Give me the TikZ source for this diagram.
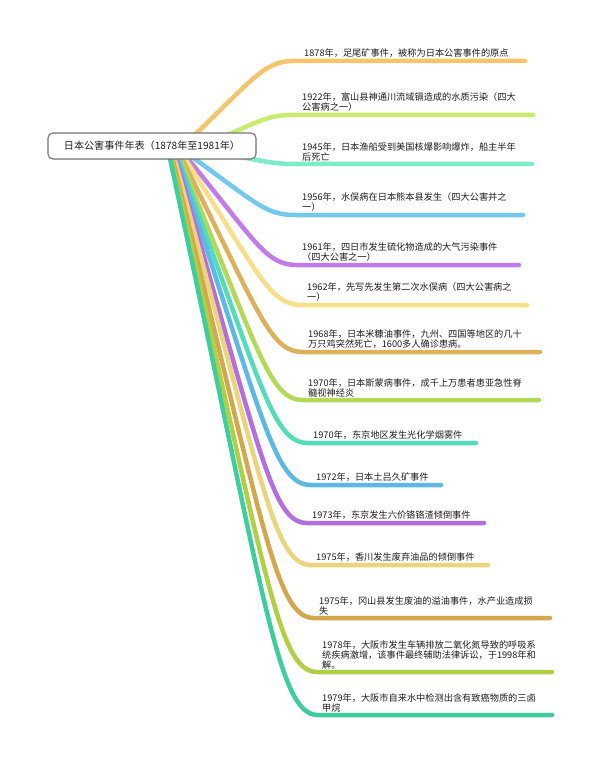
\documentclass[tikz,border=0pt]{standalone}
\usepackage{fontspec}
\setmainfont{Noto Sans CJK SC}
\usetikzlibrary{backgrounds}
\definecolor{c1}{HTML}{F5C56E}
\definecolor{c2}{HTML}{C9EC6E}
\definecolor{c3}{HTML}{7EEBC9}
\definecolor{c4}{HTML}{72C8EE}
\definecolor{c5}{HTML}{C27BEA}
\definecolor{c6}{HTML}{F7DF8A}
\definecolor{c7}{HTML}{DDB05C}
\definecolor{c8}{HTML}{B4D956}
\definecolor{c9}{HTML}{52DDB8}
\definecolor{c10}{HTML}{5DB9E3}
\definecolor{c11}{HTML}{B56EE0}
\definecolor{c12}{HTML}{EAD47C}
\definecolor{c13}{HTML}{D3A74E}
\definecolor{c14}{HTML}{AFCF45}
\definecolor{c15}{HTML}{3FCDA0}
\definecolor{txt}{HTML}{1E1E1E}
% #1 name, #2 start x, #3 curve end x, #4 line y, #5 line end x, #6 text x, #7 colour, #8 text
\newcommand\mybranch[8]{%
  \coordinate (s#1) at (#3,#4);
  \coordinate (f#1) at (#5,#4);
  \node[evtext] (t#1) at (#6,{#4-3}) {#8};
  \begin{scope}[on background layer]
    \draw[branchline,#7] ([shift={(#2-152,3)}]root.center)
      .. controls ({#2+0.65*(#3-#2)},{149+0.8*(#4-149)}) and ({#3-0.27*(#3-#2)},#4) .. (s#1) -- (f#1);
  \end{scope}
}
\begin{document}
\begin{tikzpicture}[x=1pt,y=-1pt,
  branchline/.style={line width=4.5pt,line cap=round},
  evtext/.style={anchor=south west,inner sep=0pt,align=left,
    font=\fontsize{9.2}{10}\selectfont,text=txt},
  rootbox/.style={draw=black!55,line width=1.1pt,rounded corners=5pt,fill=white,
    minimum width=208pt,minimum height=26pt,inner sep=0pt,
    font=\fontsize{10.1}{12}\selectfont,text=txt}]
\useasboundingbox (0,0) rectangle (600,762);
\begin{scope}[on background layer]
  \fill[white] (0,0) rectangle (600,762);
\end{scope}
\node[rootbox] (root) at (152,146) {日本公害事件年表（1878年至1981年）};
\mybranch{1}{180}{294}{61}{525}{304}{c1}{1878年，足尾矿事件，被称为日本公害事件的原点}
\mybranch{2}{196}{292}{115}{533}{302}{c2}{1922年，富山县神通川流域镉造成的水质污染（四大\\公害病之一）}
\mybranch{3}{200}{297}{164}{532}{302}{c3}{1945年，日本渔船受到美国核爆影响爆炸，船主半年\\后死亡}
\mybranch{4}{181}{295}{215}{523}{302}{c4}{1956年，水俣病在日本熊本县发生（四大公害并之\\一）}
\mybranch{5}{180}{297}{265}{519}{302}{c5}{1961年，四日市发生硫化物造成的大气污染事件\\（四大公害之一）}
\mybranch{6}{179}{302}{305}{527}{307}{c6}{1962年，先写先发生第二次水俣病（四大公害病之\\一）}
\mybranch{7}{177}{303}{352}{540}{308}{c7}{1968年，日本米糠油事件，九州、四国等地区的几十\\万只鸡突然死亡，1600多人确诊患病。}
\mybranch{8}{176}{303}{400}{539}{308}{c8}{1970年，日本斯蒙病事件，成千上万患者患亚急性脊\\髓视神经炎}
\mybranch{9}{175}{308}{443}{476}{313}{c9}{1970年，东京地区发生光化学烟雾件}
\mybranch{10}{174}{311}{485}{441}{316}{c10}{1972年，日本土吕久矿事件}
\mybranch{11}{173}{307}{523}{484}{312}{c11}{1973年，东京发生六价铬铬渣倾倒事件}
\mybranch{12}{172}{311}{565}{488}{316}{c12}{1975年，香川发生废弃油品的倾倒事件}
\mybranch{13}{170}{314}{618}{550}{319}{c13}{1975年，冈山县发生废油的溢油事件，水产业造成损\\失}
\mybranch{14}{169}{317}{672}{552}{322}{c14}{1978年，大阪市发生车辆排放二氧化氮导致的呼吸系\\统疾病激增，该事件最终辅助法律诉讼，于1998年和\\解。}
\mybranch{15}{168}{318}{715}{552}{322}{c15}{1979年，大阪市自来水中检测出含有致癌物质的三卤\\甲烷}
\end{tikzpicture}
\end{document}
